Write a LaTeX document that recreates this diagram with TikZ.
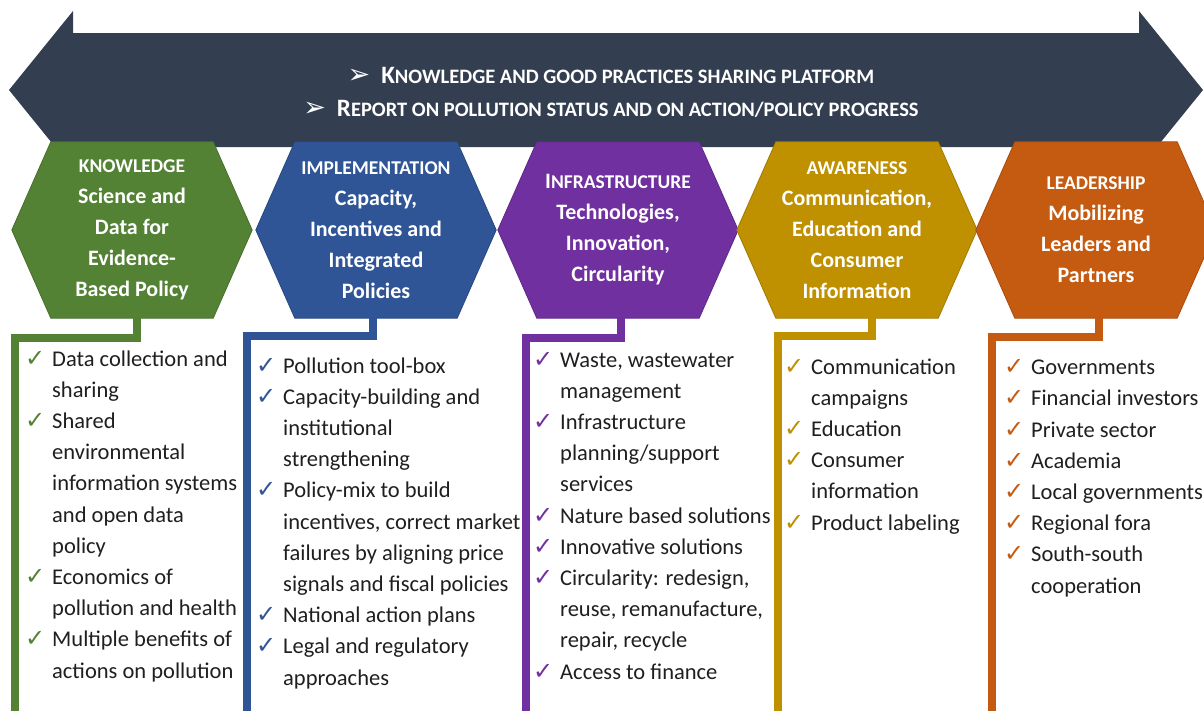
\documentclass[tikz,border=0pt]{standalone}
\usepackage{fontspec}
\setmainfont{Carlito}
\newfontfamily\symfont{DejaVu Sans}
\usetikzlibrary{backgrounds}
\definecolor{banner}{HTML}{333F50}
\definecolor{knowc}{HTML}{548235}
\definecolor{implc}{HTML}{2F5597}
\definecolor{infrc}{HTML}{7030A0}
\definecolor{awarc}{HTML}{BF9000}
\definecolor{leadc}{HTML}{C55A11}
\definecolor{itemtext}{HTML}{1F1F1F}
\newcommand{\smc}[1]{{\fontsize{20.5pt}{33pt}\selectfont #1}}
\newcommand{\ttl}{\fontsize{19.5pt}{31pt}\selectfont}
\newcommand{\tick}[1]{\llap{{\symfont\fontsize{24pt}{20pt}\selectfont\color{#1}✓}\hspace{7pt}}}
\newcommand{\pointer}{{\symfont\fontsize{27pt}{20pt}\selectfont ➢}\hspace{11pt}}
\newcommand{\hexfill}[2]{\filldraw[fill=#2, draw=#2!85!black, line width=0.8pt]
  (#1.north west) -- (#1.north east) -- ([xshift=39pt]#1.east) -- (#1.south east)
  -- (#1.south west) -- ([xshift=-39pt]#1.west) -- cycle;}
\tikzset{
  hexa/.style={minimum width=162pt, minimum height=176pt, inner sep=0pt, align=center,
    text=white, font=\bfseries\fontsize{22pt}{31pt}\selectfont},
  items/.style={anchor=base west, align=left, inner sep=0pt, text=itemtext,
    font=\fontsize{22.5pt}{31.2pt}\selectfont},
  bracket/.style={line width=7.5pt, line join=miter}
}
\begin{document}
\begin{tikzpicture}[x=1pt, y=-1pt]
  \useasboundingbox (0,0) rectangle (1204,710);
  \begin{scope}[on background layer]
    \fill[banner] (9,90) -- (73,11) -- (73,33) -- (1139,33) -- (1139,11) -- (1203,90)
      -- (1139,169) -- (1139,147) -- (73,147) -- (73,169) -- cycle;
  \end{scope}
  \node[align=center, text=white, inner sep=0pt, font=\bfseries\fontsize{25pt}{33pt}\selectfont]
    (platform) at (611,92)
    {\pointer K\smc{NOWLEDGE AND GOOD PRACTICES SHARING PLATFORM}\\
     \pointer R\smc{EPORT ON POLLUTION STATUS AND ON ACTION/POLICY PROGRESS}};

  \node[hexa] (know) at (132,230) {{\ttl KNOWLEDGE}\\Science and\\Data for\\Evidence-\\Based Policy};
  \node[hexa] (impl) at (376,230) {{\ttl IMPLEMENTATION}\\Capacity,\\Incentives and\\Integrated\\Policies};
  \node[hexa] (infr) at (618,230) {I{\ttl NFRASTRUCTURE}\\Technologies,\\Innovation,\\Circularity};
  \node[hexa] (awar) at (857,230) {{\ttl AWARENESS}\\Communication,\\Education and\\Consumer\\Information};
  \node[hexa] (lead) at (1096,230) {{\ttl LEADERSHIP}\\Mobilizing\\Leaders and\\Partners};
  \begin{scope}[on background layer]
    \hexfill{know}{knowc}
    \hexfill{impl}{implc}
    \hexfill{infr}{infrc}
    \hexfill{awar}{awarc}
    \hexfill{lead}{leadc}
  \end{scope}

  \coordinate (knowfoot) at (15,712);
  \coordinate (implfoot) at (247,712);
  \coordinate (infrfoot) at (526,712);
  \coordinate (awarfoot) at (778,712);
  \coordinate (leadfoot) at (992,712);
  \draw[bracket, knowc] ([xshift=5pt]know.south) -- ++(0,20) -| (knowfoot);
  \draw[bracket, implc] ([xshift=-3pt]impl.south) -- ++(0,18) -| (implfoot);
  \draw[bracket, infrc] ([xshift=3pt]infr.south) -- ++(0,20) -| (infrfoot);
  \draw[bracket, awarc] ([xshift=15pt]awar.south) -- ++(0,18) -| (awarfoot);
  \draw[bracket, leadc] ([xshift=3pt]lead.south) -- ++(0,19) -| (leadfoot);

  % lists are placed by the baseline of their last line
  \node[items] (knowlist) at (52,678)
    {\tick{knowc}Data collection and\\sharing\\
     \tick{knowc}Shared\\environmental\\information systems\\and open data\\policy\\
     \tick{knowc}Economics of\\pollution and health\\
     \tick{knowc}Multiple benefits of\\actions on pollution};
  \node[items] (impllist) at (283,685)
    {\tick{implc}Pollution tool-box\\
     \tick{implc}Capacity-building and\\institutional\\strengthening\\
     \tick{implc}Policy-mix to build\\incentives, correct market\\failures by aligning price\\signals and fiscal policies\\
     \tick{implc}National action plans\\
     \tick{implc}Legal and regulatory\\approaches};
  \node[items] (infrlist) at (560,679)
    {\tick{infrc}Waste, wastewater\\management\\
     \tick{infrc}Infrastructure\\planning/support\\services\\
     \tick{infrc}Nature based solutions\\
     \tick{infrc}Innovative solutions\\
     \tick{infrc}Circularity: redesign,\\reuse, remanufacture,\\repair, recycle\\
     \tick{infrc}Access to finance};
  \node[items] (awarlist) at (811,530)
    {\tick{awarc}Communication\\campaigns\\
     \tick{awarc}Education\\
     \tick{awarc}Consumer\\information\\
     \tick{awarc}Product labeling};
  \node[items] (leadlist) at (1031,593)
    {\tick{leadc}Governments\\
     \tick{leadc}Financial investors\\
     \tick{leadc}Private sector\\
     \tick{leadc}Academia\\
     \tick{leadc}Local governments\\
     \tick{leadc}Regional fora\\
     \tick{leadc}South-south\\cooperation};
\end{tikzpicture}
\end{document}
